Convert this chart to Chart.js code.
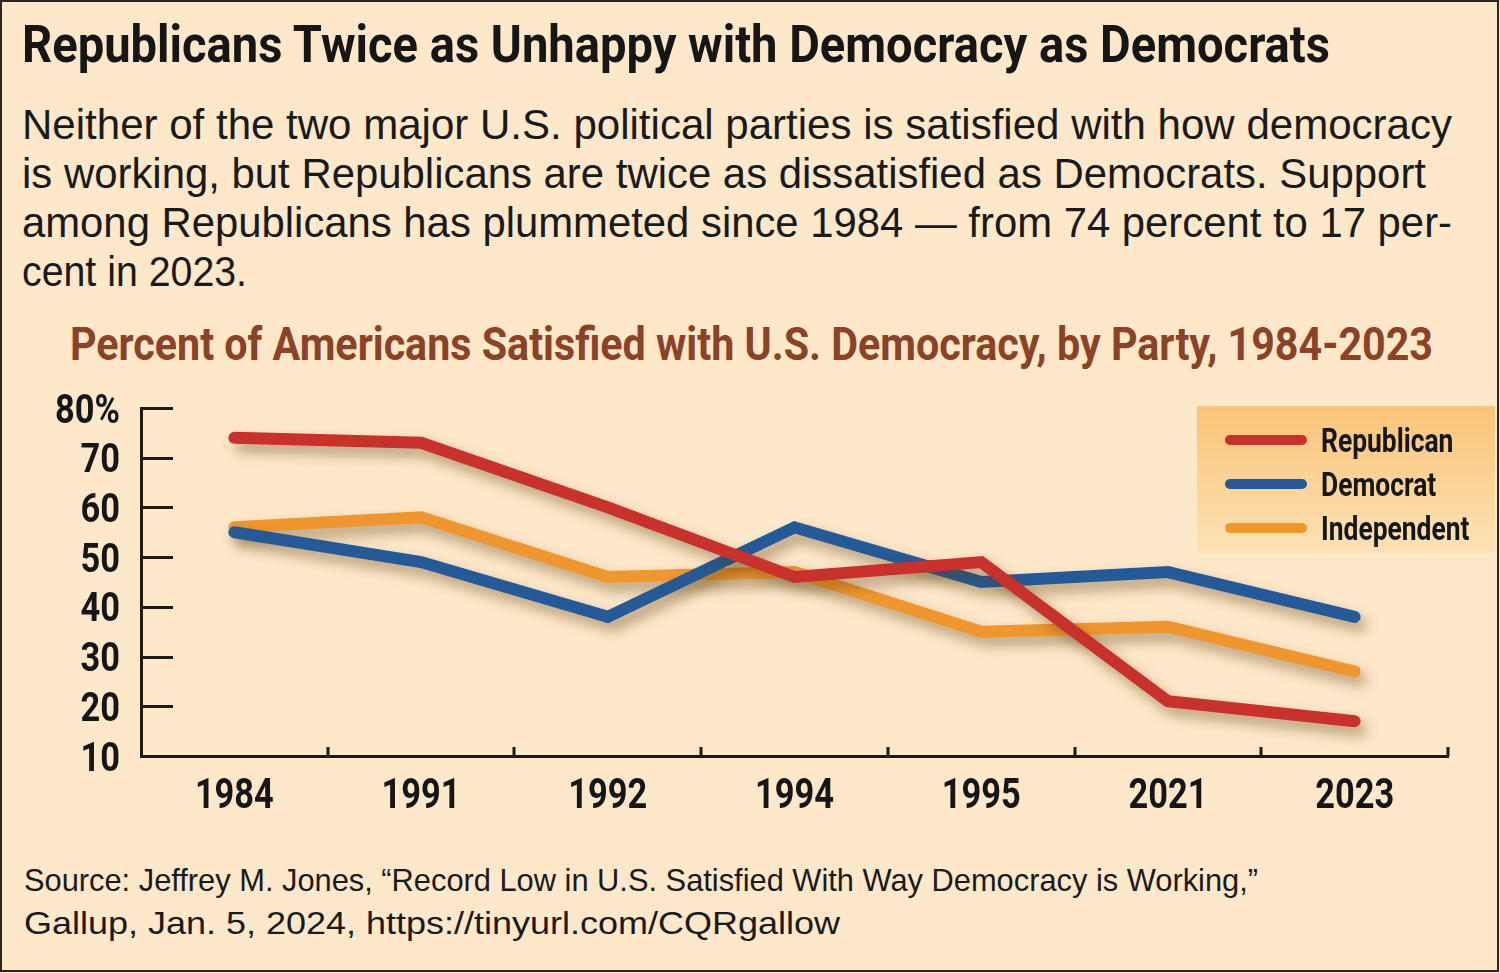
<!DOCTYPE html>
<html>
<head>
<meta charset="utf-8">
<script src="https://cdn.jsdelivr.net/npm/chart.js@4/dist/chart.umd.min.js"></script>
<style>
  html, body { margin: 0; padding: 0; }
  body { width: 1500px; height: 973px; background: #fde8c9; position: relative; overflow: hidden; }
  #frame { position: absolute; left: 0; top: 0; width: 1495px; height: 968px; border: 2.5px solid #2a2520; }
  .t { position: absolute; white-space: nowrap; transform-origin: 0 0; display: inline-block; }
  .cond { font-family: Roboto, "Liberation Sans", sans-serif; font-weight: bold; }
  .reg { font-family: "Liberation Sans", Arial, sans-serif; }
  #title { left: 22px; top: 19px; font-size: 52px; line-height: 52px; color: #161616; }
  .sub { left: 22px; font-size: 42px; line-height: 49px; color: #1a1a1a; }
  #ctitle { left: 70px; top: 321px; font-size: 46px; line-height: 46px; color: #8b4226; }
  .src { left: 24px; font-size: 31.5px; line-height: 43px; color: #1a1a1a; }
  #wrap { position: absolute; left: 0; top: 380px; width: 1500px; height: 450px; }
</style>
</head>
<body>
<div id="frame"></div>
<div id="title" class="t cond" data-w="1308">Republicans Twice as Unhappy with Democracy as Democrats</div>
<div class="t sub reg" style="top:100px" data-w="1430">Neither of the two major U.S. political parties is satisfied with how democracy</div>
<div class="t sub reg" style="top:149px" data-w="1404">is working, but Republicans are twice as dissatisfied as Democrats. Support</div>
<div class="t sub reg" style="top:198px" data-w="1430">among Republicans has plummeted since 1984 — from 74 percent to 17 per-</div>
<div class="t sub reg" style="top:247px" data-w="225">cent in 2023.</div>
<div id="ctitle" class="t cond" data-w="1363">Percent of Americans Satisfied with U.S. Democracy, by Party, 1984-2023</div>
<div id="wrap"><canvas id="c" width="1500" height="450"></canvas></div>
<div class="t src reg" style="top:859px" data-w="1234">Source: Jeffrey M. Jones, “Record Low in U.S. Satisfied With Way Democracy is Working,”</div>
<div class="t src reg" style="top:902px" data-w="816">Gallup, Jan. 5, 2024, https://tinyurl.com/CQRgallow</div>
<script>
const years = ["1984", "1991", "1992", "1994", "1995", "2021", "2023"];
const republican = [74, 73, 60, 46, 49, 21, 17];
const democrat = [55, 49, 38, 56, 45, 47, 38];
const independent = [56, 58, 46, 47, 35, 36, 27];
const yTicks = [10, 20, 30, 40, 50, 60, 70, 80];
const yTickLabels = ["10", "20", "30", "40", "50", "60", "70", "80%"];
const seriesNames = ["Republican", "Democrat", "Independent"];
const seriesColors = ["#c8312c", "#255a98", "#f0962e"];

document.querySelectorAll('[data-w]').forEach(el => {
  const w = el.getBoundingClientRect().width;
  el.style.transform = 'scaleX(' + (parseFloat(el.dataset.w) / w) + ')';
});

const FONT = 'Roboto, "Liberation Sans", sans-serif';

function condText(ctx, text, x, y, size, sx, align) {
  ctx.save();
  ctx.font = 'bold ' + size + 'px ' + FONT;
  ctx.textAlign = align;
  ctx.textBaseline = 'alphabetic';
  ctx.translate(x, y);
  ctx.scale(sx, 1);
  ctx.fillText(text, 0, 0);
  ctx.restore();
}

const shadowPlugin = {
  id: 'shadow',
  beforeDatasetDraw(chart) {
    const ctx = chart.ctx;
    ctx.save();
    ctx.shadowColor = 'rgba(90,60,10,0.45)';
    ctx.shadowBlur = 13;
    ctx.shadowOffsetX = 6;
    ctx.shadowOffsetY = 8;
  },
  afterDatasetDraw(chart) {
    chart.ctx.restore();
  }
};

const axisPlugin = {
  id: 'axisDecor',
  afterDraw(chart) {
    const ctx = chart.ctx;
    const x = chart.scales.x, y = chart.scales.y;
    const ca = chart.chartArea;
    ctx.save();
    ctx.strokeStyle = '#1c1a18';
    ctx.lineWidth = 3;
    ctx.lineCap = 'butt';
    ctx.beginPath();
    yTicks.forEach(v => {
      if (v === y.min) return;
      const py = Math.round(y.getPixelForValue(v)) + 0.5;
      ctx.moveTo(ca.left, py);
      ctx.lineTo(ca.left + 32, py);
    });
    const step = x.getPixelForValue(1) - x.getPixelForValue(0);
    for (let i = 0; i < years.length; i++) {
      const px = Math.round(x.getPixelForValue(i) + step / 2);
      ctx.moveTo(px, ca.bottom);
      ctx.lineTo(px, ca.bottom - 9);
    }
    ctx.stroke();
    ctx.fillStyle = '#161616';
    yTicks.forEach((v, i) => {
      condText(ctx, yTickLabels[i], ca.left - 21, y.getPixelForValue(v) + 14.5, 40, 0.86, 'right');
    });
    years.forEach((lab, i) => {
      condText(ctx, lab, x.getPixelForValue(i), ca.bottom + 52, 43, 0.8, 'center');
    });
    ctx.restore();
  }
};

const legendPlugin = {
  id: 'boxLegend',
  afterDraw(chart) {
    const ctx = chart.ctx;
    const bx = 1197, by = 26, bw = 298, bh = 147;
    ctx.save();
    const g = ctx.createLinearGradient(0, by, 0, by + bh);
    g.addColorStop(0, '#f9c477');
    g.addColorStop(1, '#fde2b6');
    ctx.fillStyle = g;
    ctx.fillRect(bx, by, bw, bh);
    chart.data.datasets.forEach((ds, i) => {
      const ly = by + 34 + i * 44;
      ctx.strokeStyle = ds.borderColor;
      ctx.lineWidth = 10;
      ctx.lineCap = 'round';
      ctx.beginPath();
      ctx.moveTo(1230, ly);
      ctx.lineTo(1302, ly);
      ctx.stroke();
      ctx.fillStyle = '#161616';
      condText(ctx, ds.label, 1321, ly + 12, 33, 0.8, 'left');
    });
    ctx.restore();
  }
};

const mk = (i, data) => ({
  label: seriesNames[i],
  data: data,
  borderColor: seriesColors[i],
  backgroundColor: seriesColors[i],
  borderWidth: 12,
  borderCapStyle: 'round',
  borderJoinStyle: 'miter',
  pointRadius: 0,
  pointHoverRadius: 0,
  tension: 0,
  fill: false
});

new Chart(document.getElementById('c'), {
  type: 'line',
  data: {
    labels: years,
    datasets: [mk(0, republican), mk(1, democrat), mk(2, independent)]
  },
  options: {
    responsive: false,
    animation: false,
    events: [],
    layout: { padding: { top: 28, right: 52, left: 0, bottom: 0 } },
    plugins: { legend: { display: false }, tooltip: { enabled: false } },
    scales: {
      x: {
        offset: true,
        grid: { display: false, drawTicks: false },
        border: { display: true, color: '#1c1a18', width: 3 },
        ticks: { display: false },
        afterFit(s) { s.height = 74; }
      },
      y: {
        min: 10, max: 80,
        grid: { display: false, drawTicks: false },
        border: { display: true, color: '#1c1a18', width: 3 },
        ticks: { display: false, stepSize: 10 },
        afterFit(s) { s.width = 141; }
      }
    }
  },
  plugins: [shadowPlugin, axisPlugin, legendPlugin]
});
</script>
</body>
</html>
